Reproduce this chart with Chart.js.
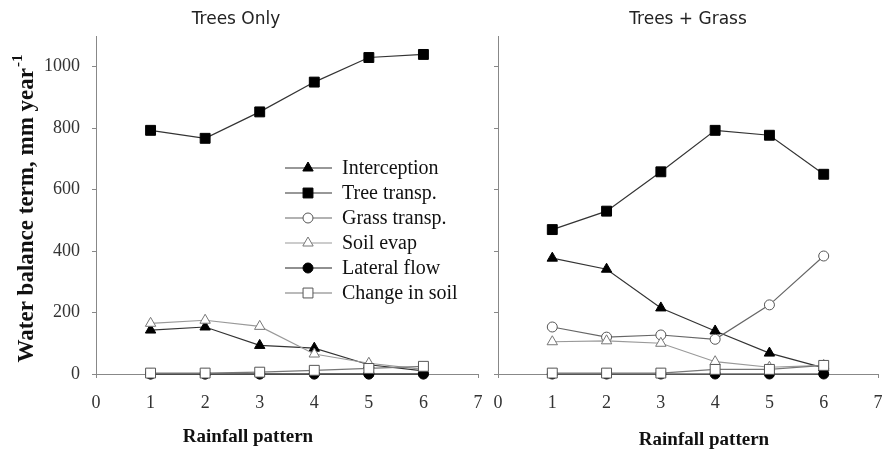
<!DOCTYPE html>
<html><head><meta charset="utf-8">
<script src="https://cdn.jsdelivr.net/npm/chart.js@4.4.1/dist/chart.umd.min.js"></script>
<style>
html,body{margin:0;padding:0;background:#fff;}
#wrap{position:relative;width:889px;height:451px;overflow:hidden;background:#fff;}
#cl{position:absolute;left:0;top:0;}
#cr{position:absolute;left:480px;top:0;}
</style></head><body>
<div id="wrap"><canvas id="cl" width="490" height="451"></canvas><canvas id="cr" width="409" height="451"></canvas></div>
<script>
// ---- data ----
const rainfallPattern = [1, 2, 3, 4, 5, 6];
const seriesNames = ['Interception', 'Tree transp.', 'Grass transp.', 'Soil evap', 'Lateral flow', 'Change in soil'];
const xTickValues = [0, 1, 2, 3, 4, 5, 6, 7];
const yTickValues = [0, 200, 400, 600, 800, 1000];
const panelTitles = ['Trees Only', 'Trees + Grass'];
const xAxisTitle = 'Rainfall pattern';
const yAxisTitle = 'Water balance term, mm year';
const yAxisTitleSup = '-1';

// Trees Only
const treesOnlyInterception = [143, 153, 93, 84, 30, 10];
const treesOnlyTreeTransp   = [793, 767, 853, 950, 1030, 1040];
const treesOnlyGrassTransp  = [0, 0, 0, 0, 0, 0];
const treesOnlySoilEvap     = [165, 175, 155, 65, 35, 15];
const treesOnlyLateralFlow  = [0, 0, 0, 0, 0, 0];
const treesOnlyChangeSoil   = [3, 3, 6, 12, 18, 25];

// Trees + Grass
const treesGrassInterception = [377, 341, 215, 140, 68, 20];
const treesGrassTreeTransp   = [470, 530, 658, 793, 777, 650];
const treesGrassGrassTransp  = [153, 120, 127, 113, 225, 384];
const treesGrassSoilEvap     = [105, 108, 100, 40, 22, 28];
const treesGrassLateralFlow  = [0, 0, 0, 0, 0, 0];
const treesGrassChangeSoil   = [3, 3, 3, 15, 15, 28];

// ---- styles ----
const styles = [
  {line:'#333', fill:'#000', border:'#000', shape:'triangle', r:6},
  {line:'#333', fill:'#000', border:'#000', shape:'rect', r:7},
  {line:'#666', fill:'#fff', border:'#555', shape:'circle', r:5},
  {line:'#999', fill:'#fff', border:'#777', shape:'triangle', r:6},
  {line:'#222', fill:'#000', border:'#000', shape:'circle', r:5},
  {line:'#777', fill:'#fff', border:'#555', shape:'rect', r:7}
];

function makeDatasets(arrs) {
  return arrs.map((vals, i) => ({
    label: seriesNames[i],
    data: rainfallPattern.map((x, j) => ({x: x, y: vals[j]})),
    order: arrs.length - i,
    borderColor: styles[i].line,
    borderWidth: 1.2,
    pointStyle: styles[i].shape,
    pointRadius: styles[i].r,
    pointBackgroundColor: styles[i].fill,
    pointBorderColor: styles[i].border,
    pointBorderWidth: 1,
    clip: false,
    tension: 0
  }));
}

const SERIF = '"Liberation Serif", "Times New Roman", serif';
const SANS = '"DejaVu Sans", Verdana, sans-serif';

const textPlugin = {
  id: 'texts',
  afterDraw(chart, args, opts) {
    const ctx = chart.ctx;
    ctx.save();
    ctx.fillStyle = '#222';
    ctx.textAlign = 'center';
    ctx.textBaseline = 'middle';
    ctx.font = '17px ' + SANS;
    ctx.fillText(opts.title, opts.titleX, 20);
    ctx.fillStyle = '#111';
    ctx.font = 'bold 19px ' + SERIF;
    ctx.fillText(xAxisTitle, opts.xTitleX, opts.xTitleY);
    if (opts.yTitle) {
      ctx.translate(27, 209);
      ctx.rotate(-Math.PI / 2);
      ctx.font = 'bold 23px ' + SERIF;
      const w1 = ctx.measureText(yAxisTitle).width;
      ctx.font = 'bold 15px ' + SERIF;
      const w2 = ctx.measureText(yAxisTitleSup).width;
      const start = -(w1 + w2) / 2;
      ctx.textAlign = 'left';
      ctx.font = 'bold 23px ' + SERIF;
      ctx.fillText(yAxisTitle, start, 0);
      ctx.font = 'bold 15px ' + SERIF;
      ctx.fillText(yAxisTitleSup, start + w1 + 1, -9);
    }
    ctx.restore();
    if (opts.legend) {
      ctx.save();
      chart.data.datasets.forEach((ds, i) => {
        const y = 168 + i * 25;
        ctx.strokeStyle = ds.borderColor;
        ctx.lineWidth = 1.2;
        ctx.beginPath();
        ctx.moveTo(285, y); ctx.lineTo(332, y);
        ctx.stroke();
        ctx.fillStyle = ds.pointBackgroundColor;
        ctx.strokeStyle = ds.pointBorderColor;
        ctx.lineWidth = 1;
        Chart.helpers.drawPoint(ctx, {pointStyle: ds.pointStyle, radius: ds.pointRadius, rotation: 0, borderWidth: 1}, 308, y);
        ctx.fillStyle = '#111';
        ctx.font = '20px ' + SERIF;
        ctx.textAlign = 'left';
        ctx.textBaseline = 'middle';
        ctx.fillText(ds.label, 342, y + 1);
      });
      ctx.restore();
    }
  }
};

function makeOptions(isLeft, pluginOpts) {
  return {
    responsive: false,
    animation: false,
    devicePixelRatio: 1,
    layout: {padding: {left: 0, right: isLeft ? 12 : 11, top: 36, bottom: 0}},
    plugins: {legend: {display: false}, tooltip: {enabled: false}, texts: pluginOpts},
    scales: {
      x: {
        type: 'linear', min: 0, max: 7,
        afterBuildTicks: s => { s.ticks = xTickValues.map(v => ({value: v})); },
        afterFit: s => { s.height = 77; s.paddingLeft = 0; s.paddingRight = 0; },
        border: {color: '#888', width: 1},
        grid: {drawOnChartArea: false, drawTicks: true, tickLength: 4, color: '#888'},
        ticks: {font: {family: SERIF, size: 18}, color: '#333', padding: 14, maxRotation: 0, autoSkip: false,
                callback: v => String(v)}
      },
      y: {
        type: 'linear', min: 0, max: 1100,
        afterBuildTicks: s => { s.ticks = yTickValues.map(v => ({value: v})); },
        afterFit: s => { s.width = isLeft ? 96 : 18; s.paddingTop = 0; s.paddingBottom = 0; },
        border: {color: '#888', width: 1},
        grid: {drawOnChartArea: false, drawTicks: true, tickLength: 4, color: '#888'},
        ticks: {display: isLeft, font: {family: SERIF, size: 18}, color: '#333', padding: 12,
                callback: v => String(v)}
      }
    }
  };
}

new Chart(document.getElementById('cl'), {
  type: 'line',
  data: {datasets: makeDatasets([treesOnlyInterception, treesOnlyTreeTransp, treesOnlyGrassTransp, treesOnlySoilEvap, treesOnlyLateralFlow, treesOnlyChangeSoil])},
  options: makeOptions(true, {title: panelTitles[0], titleX: 236, xTitleX: 248, xTitleY: 437, yTitle: true, legend: true}),
  plugins: [textPlugin]
});

new Chart(document.getElementById('cr'), {
  type: 'line',
  data: {datasets: makeDatasets([treesGrassInterception, treesGrassTreeTransp, treesGrassGrassTransp, treesGrassSoilEvap, treesGrassLateralFlow, treesGrassChangeSoil])},
  options: makeOptions(false, {title: panelTitles[1], titleX: 208, xTitleX: 224, xTitleY: 440, yTitle: false, legend: false}),
  plugins: [textPlugin]
});
</script>
</body></html>
